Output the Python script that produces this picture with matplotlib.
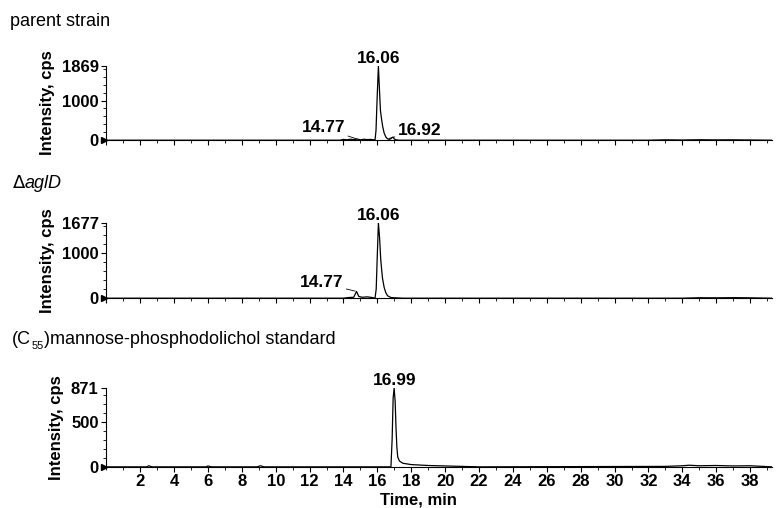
import matplotlib.pyplot as plt
from matplotlib.ticker import MultipleLocator

plt.rcParams['font.family'] = ['Liberation Sans', 'DejaVu Sans']

# parent strain trace (time, min / intensity, cps)
t_parent = [0, 13.8, 14.0, 14.2, 14.4, 14.6, 14.8, 14.9, 15.0, 15.2, 15.4, 15.6, 15.8,
            15.86, 15.92, 15.98, 16.06, 16.12, 16.18, 16.25, 16.32, 16.4, 16.5, 16.6, 16.7,
            16.8, 16.92, 17.0, 17.1, 17.3, 32.0, 33.0, 34.0, 35.0, 36.0, 37.0, 39.3]
i_parent = [0, 0, 20, 10, 25, 15, 30, 20, 10, 25, 15, 20, 10,
            0, 250, 1000, 1869, 1300, 750, 520, 330, 180, 80, 35, 20,
            40, 80, 30, 10, 0, 0, 10, 5, 12, 8, 10, 0]

# delta aglD trace
t_agld = [0, 14.0, 14.3, 14.6, 14.77, 14.9, 15.1, 15.4, 15.7, 15.86, 15.93, 15.99,
          16.06, 16.13, 16.2, 16.3, 16.4, 16.5, 16.6, 16.8, 17.0, 17.5, 34.0, 35.0,
          36.0, 37.0, 38.0, 39.3]
i_agld = [0, 0, 15, 20, 150, 40, 20, 30, 15, 0, 200, 900,
          1677, 1350, 850, 450, 240, 120, 55, 15, 10, 0, 0, 10, 8, 12, 8, 0]

# mannose-phosphodolichol standard trace
t_std = [0, 2.4, 2.5, 2.7, 5.9, 6.0, 6.2, 8.9, 9.1, 9.3, 16.8, 16.87, 16.93,
         16.99, 17.05, 17.1, 17.15, 17.2, 17.3, 17.5, 18.0, 19.0, 20.0, 21.0, 22.0,
         33.0, 34.0, 34.4, 35.0, 36.0, 37.0, 38.0, 39.3]
i_std = [0, 0, 12, 0, 0, 10, 0, 0, 12, 0, 0, 300, 760,
         871, 720, 430, 220, 110, 65, 40, 25, 15, 10, 5, 0,
         5, 12, 18, 12, 15, 10, 12, 0]

traces = [
    (t_parent, i_parent, 1869, [0, 1000, 1869], 200),
    (t_agld, i_agld, 1677, [0, 1000, 1677], 200),
    (t_std, i_std, 871, [0, 500, 871], 100),
]

# peak labels: (time, height, text, dx px, dy px, leader)
peaks = [
    [(16.06, 1869, '16.06', 0, 0, False), (14.87, 20, '14.77', -13, 4, True),
     (16.6, 35, '16.92', 10, 1, True)],
    [(16.06, 1677, '16.06', 0, 0, False), (14.77, 150, '14.77', -13, 1, True)],
    [(16.99, 871, '16.99', 0, 0, False)],
]

fs = 12
fig = plt.figure(figsize=(7.76, 5.08), dpi=100)
bottoms = [0.724, 0.413, 0.081]
heights = [0.146, 0.148, 0.155]

for k, (t, y, ymax, yt, ymin_step) in enumerate(traces):
    ax = fig.add_axes([0.137, bottoms[k], 0.858, heights[k]])
    ax.plot(t, y, color='black', lw=0.9)
    ax.set_xlim(0, 39.3)
    ax.set_ylim(0, ymax)
    ax.spines['top'].set_visible(False)
    ax.spines['right'].set_visible(False)
    ax.spines['left'].set_linewidth(0.8)
    ax.spines['bottom'].set_linewidth(0.8)
    ax.xaxis.set_major_locator(MultipleLocator(2))
    ax.xaxis.set_minor_locator(MultipleLocator(1))
    ax.yaxis.set_minor_locator(MultipleLocator(ymin_step))
    ax.set_yticks(yt)
    ax.set_yticklabels([str(v) for v in yt], fontsize=fs, fontweight='bold')
    ax.tick_params(axis='both', which='major', length=3.5, width=0.8, direction='out', pad=2)
    ax.tick_params(axis='both', which='minor', length=2, width=0.6, direction='out')
    if k == 2:
        ax.set_xticks(range(2, 39, 2))
        ax.set_xticklabels([str(v) for v in range(2, 39, 2)], fontsize=fs, fontweight='bold')
    else:
        ax.tick_params(axis='x', labelbottom=False)
    ax.set_ylabel('Intensity, cps', fontsize=fs, fontweight='bold', labelpad=5)
    ax.plot([-0.15], [0], marker='>', color='black', markersize=5, clip_on=False)
    for (px, py, txt, dx, dy, lead) in peaks[k]:
        if lead:
            ax.annotate(txt, xy=(px, py), xytext=(dx, dy), textcoords='offset pixels',
                        ha='right' if dx < 0 else 'left', va='bottom',
                        fontsize=12.5, fontweight='bold',
                        arrowprops=dict(arrowstyle='-', lw=0.6, color='black',
                                        shrinkA=0, shrinkB=1))
        else:
            ax.annotate(txt, xy=(px, py), xytext=(dx, dy), textcoords='offset pixels',
                        ha='center', va='bottom', fontsize=12.5, fontweight='bold')

fig.text(10 / 776, 1 - 22 / 508, 'parent strain', fontsize=13, va='center')
fig.text(12 / 776, 1 - 183 / 508, r'$\Delta$', fontsize=13, va='center')
fig.text(25 / 776, 1 - 183 / 508, 'aglD', fontsize=13, va='center', style='italic')
fig.text(12 / 776, 1 - 340 / 508, '(C', fontsize=13, va='center')
fig.text(32 / 776, 1 - 346 / 508, '55', fontsize=8, va='center')
fig.text(44 / 776, 1 - 340 / 508, ')mannose-phosphodolichol standard',
         fontsize=13, va='center')
fig.text(418 / 776, 1 - 500 / 508, 'Time, min', fontsize=fs, fontweight='bold',
         ha='center', va='center')

fig.savefig('out.png', dpi=100)
